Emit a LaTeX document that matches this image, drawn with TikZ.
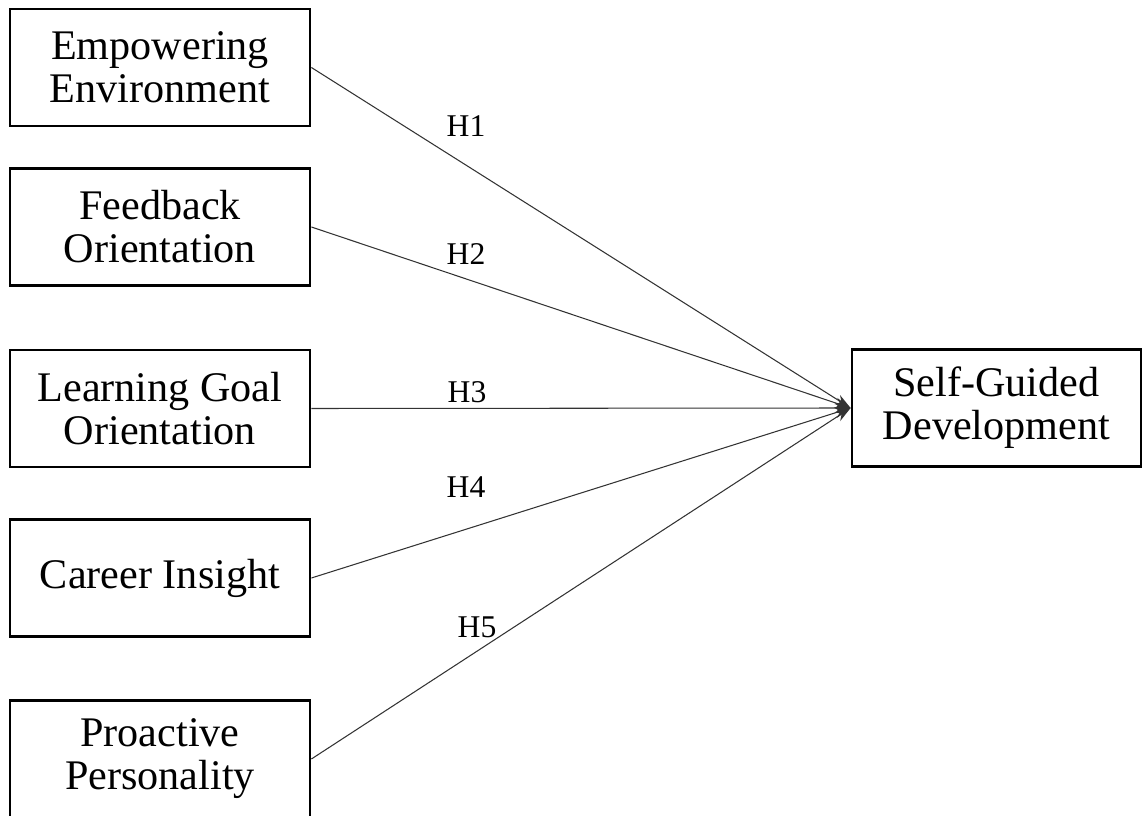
\documentclass[tikz,border=0pt]{standalone}
\usepackage{fontspec}
\setmainfont{Liberation Serif}
\usetikzlibrary{arrows.meta}
\begin{document}
\begin{tikzpicture}
[construct/.style={draw,line width=1.6pt,minimum width=6cm,minimum height=2.34cm,inner sep=0pt,align=center,font=\fontsize{24}{24.5}\selectfont},
hyp/.style={inner sep=0pt,font=\fontsize{18}{18}\selectfont},
effect/.style={-{Stealth[length=9pt,width=6pt]},black!80,line width=0.6pt}]
\useasboundingbox (0,0) rectangle (22.86,-16.32);
\node[construct] (empenv) at (3.2,-1.35) {Empowering\\Environment};
\node[construct] (fbo) at (3.2,-4.54) {Feedback\\Orientation};
\node[construct] (lgo) at (3.2,-8.17) {Learning Goal\\Orientation};
\node[construct] (cins) at (3.2,-11.56) {Career Insight};
\node[construct] (proact) at (3.2,-15.18) {Proactive\\Personality};
\node[construct,minimum width=5.78cm] (sgd) at (19.93,-8.16) {Self-Guided\\Development};

\node[hyp] (h1) at (9.32,-2.52) {H1};
\node[hyp] (h2) at (9.32,-5.08) {H2};
\node[hyp] (h3) at (9.34,-7.84) {H3};
\node[hyp] (h4) at (9.32,-9.74) {H4};
\node[hyp] (h5) at (9.54,-12.54) {H5};

\draw [effect] (empenv.east) -- (sgd.west);
\draw [effect] (fbo.east) -- (sgd.west);
\draw [effect] (lgo.east) -- (sgd.west);
\draw [effect] (cins.east) -- (sgd.west);
\draw [effect] (proact.east) -- (sgd.west);
\end{tikzpicture}
\end{document}
